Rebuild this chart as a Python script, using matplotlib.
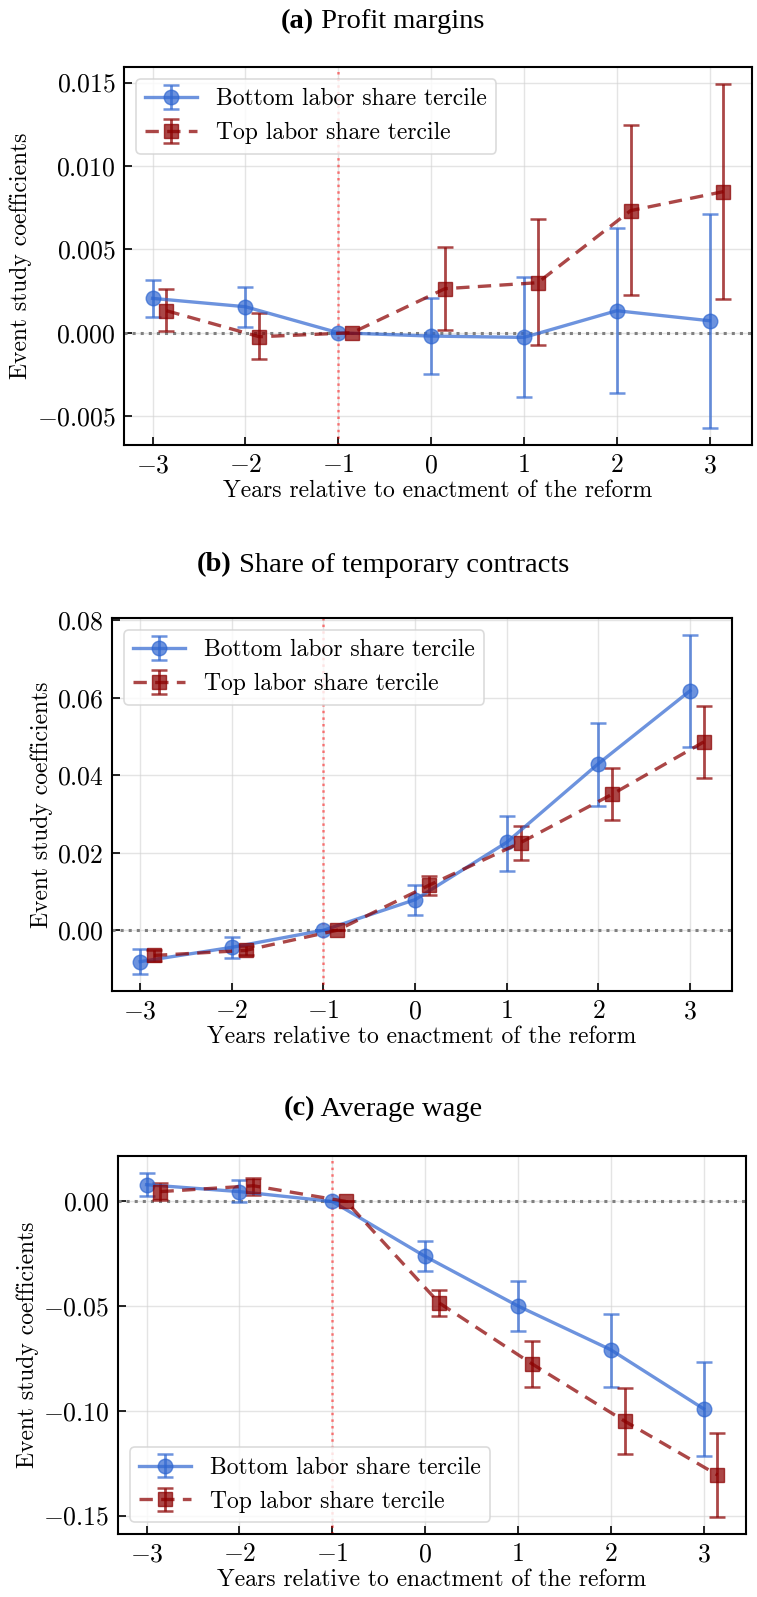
import matplotlib
matplotlib.use("Agg")
import matplotlib.pyplot as plt
import numpy as np

plt.rcParams['font.family'] = 'serif'
plt.rcParams['font.serif'] = ['cmr10', 'DejaVu Serif']
plt.rcParams['mathtext.fontset'] = 'cm'
plt.rcParams['axes.formatter.use_mathtext'] = True
plt.rcParams['axes.unicode_minus'] = True

years = [-3, -2, -1, 0, 1, 2, 3]
label_bottom = 'Bottom labor share tercile'
label_top = 'Top labor share tercile'

# (a) Profit margins
a_bottom = [0.00206, 0.00156, 0.0, -0.00020, -0.00028, 0.00132, 0.00072]
a_bottom_hi = [0.00316, 0.00276, 0.0, 0.00206, 0.00332, 0.00627, 0.00712]
a_bottom_lo = [0.00096, 0.00034, 0.0, -0.00248, -0.00388, -0.00360, -0.00570]
a_top = [0.00132, -0.00024, 0.0, 0.00264, 0.00300, 0.00732, 0.00846]
a_top_hi = [0.00262, 0.00116, 0.0, 0.00513, 0.00683, 0.01243, 0.01490]
a_top_lo = [0.00012, -0.00156, 0.0, 0.00016, -0.00074, 0.00226, 0.00204]

# (b) Share of temporary contracts
b_bottom = [-0.0081, -0.0044, 0.0, 0.0079, 0.0227, 0.0430, 0.0618]
b_bottom_hi = [-0.0048, -0.0017, 0.0, 0.0118, 0.0296, 0.0535, 0.0762]
b_bottom_lo = [-0.0113, -0.0071, 0.0, 0.0039, 0.0154, 0.0321, 0.0472]
b_top = [-0.0065, -0.0052, 0.0, 0.0116, 0.0226, 0.0351, 0.0486]
b_top_hi = [-0.0051, -0.0040, 0.0, 0.0139, 0.0268, 0.0419, 0.0579]
b_top_lo = [-0.0080, -0.0065, 0.0, 0.0092, 0.0182, 0.0284, 0.0393]

# (c) Average wage
c_bottom = [0.0080, 0.0047, 0.0, -0.0262, -0.0499, -0.0708, -0.0990]
c_bottom_hi = [0.0135, 0.0102, 0.0, -0.0189, -0.0381, -0.0538, -0.0767]
c_bottom_lo = [0.0027, -0.0003, 0.0, -0.0334, -0.0618, -0.0885, -0.1214]
c_top = [0.0047, 0.0075, 0.0, -0.0484, -0.0775, -0.1049, -0.1306]
c_top_hi = [0.0089, 0.0114, 0.0, -0.0421, -0.0666, -0.0892, -0.1106]
c_top_lo = [0.0005, 0.0033, 0.0, -0.0548, -0.0885, -0.1206, -0.1506]

title_tags = ['(a)', '(b)', '(c)']
title_texts = ['Profit margins', 'Share of temporary contracts', 'Average wage']
xlabel = 'Years relative to enactment of the reform'
ylabel = 'Event study coefficients'

W, H = 757, 1597
fig = plt.figure(figsize=(W / 100, H / 100), dpi=100)

boxes = [(124, 752, 67, 445), (112, 732, 618, 991), (118, 746, 1156, 1534)]
title_y = [22, 565, 1109]
legend_locs = ['upper left', 'upper left', 'lower left']

panels = [
    (a_bottom, a_bottom_lo, a_bottom_hi, a_top, a_top_lo, a_top_hi),
    (b_bottom, b_bottom_lo, b_bottom_hi, b_top, b_top_lo, b_top_hi),
    (c_bottom, c_bottom_lo, c_bottom_hi, c_top, c_top_lo, c_top_hi),
]

blue = '#2f66d0'
red = '#8b0000'
offset = 0.15

renderer = fig.canvas.get_renderer()

for i, (bv, blo, bhi, tv, tlo, thi) in enumerate(panels):
    l, r, t, b = boxes[i]
    ax = fig.add_axes([l / W, 1 - b / H, (r - l) / W, (b - t) / H])
    x = np.array(years, dtype=float)
    bv = np.array(bv); tv = np.array(tv)
    berr = [bv - np.array(blo), np.array(bhi) - bv]
    terr = [tv - np.array(tlo), np.array(thi) - tv]
    ax.errorbar(x, bv, yerr=berr, fmt='-o', color=blue, alpha=0.7, lw=2.4,
                ms=10.5, capsize=6, elinewidth=2, capthick=1.8, label=label_bottom, zorder=3)
    ax.errorbar(x + offset, tv, yerr=terr, fmt='--s', color=red, alpha=0.72, lw=2.4,
                ms=10.5, capsize=6, elinewidth=2, capthick=1.8, label=label_top, zorder=3,
                dashes=(4, 2.5))
    ax.axhline(0, color='gray', ls=':', lw=2.2, zorder=1)
    ax.axvline(-1, color='red', ls=':', lw=1.8, alpha=0.5, zorder=1)
    ax.grid(True, color='lightgray', alpha=0.6, lw=1)
    ax.set_axisbelow(True)
    ax.set_xticks(years)
    ax.tick_params(direction='in', length=6, width=1.2, labelsize=18.5, pad=6)
    for s in ax.spines.values():
        s.set_linewidth(1.5)
    ax.set_xlabel(xlabel, fontsize=17, labelpad=2)
    ax.set_ylabel(ylabel, fontsize=17, labelpad=3)
    leg = ax.legend(loc=legend_locs[i], fontsize=17, fancybox=True, framealpha=0.8,
                    edgecolor='lightgray', handlelength=2.2)
    leg.get_frame().set_linewidth(1.2)

    # title: bold tag + regular text, centred as a whole
    yy = 1 - title_y[i] / H
    t1 = fig.text(0, yy, title_tags[i], ha='left', va='center', fontsize=20.5,
                  family='Liberation Serif', weight='bold')
    t2 = fig.text(0, yy, ' ' + title_texts[i], ha='left', va='center', fontsize=20.5,
                  family='Liberation Serif')
    w1 = t1.get_window_extent(renderer).width
    w2 = t2.get_window_extent(renderer).width
    x0 = 383 - (w1 + w2) / 2
    t1.set_x(x0 / W)
    t2.set_x((x0 + w1) / W)

fig.savefig('out.png', dpi=100)
